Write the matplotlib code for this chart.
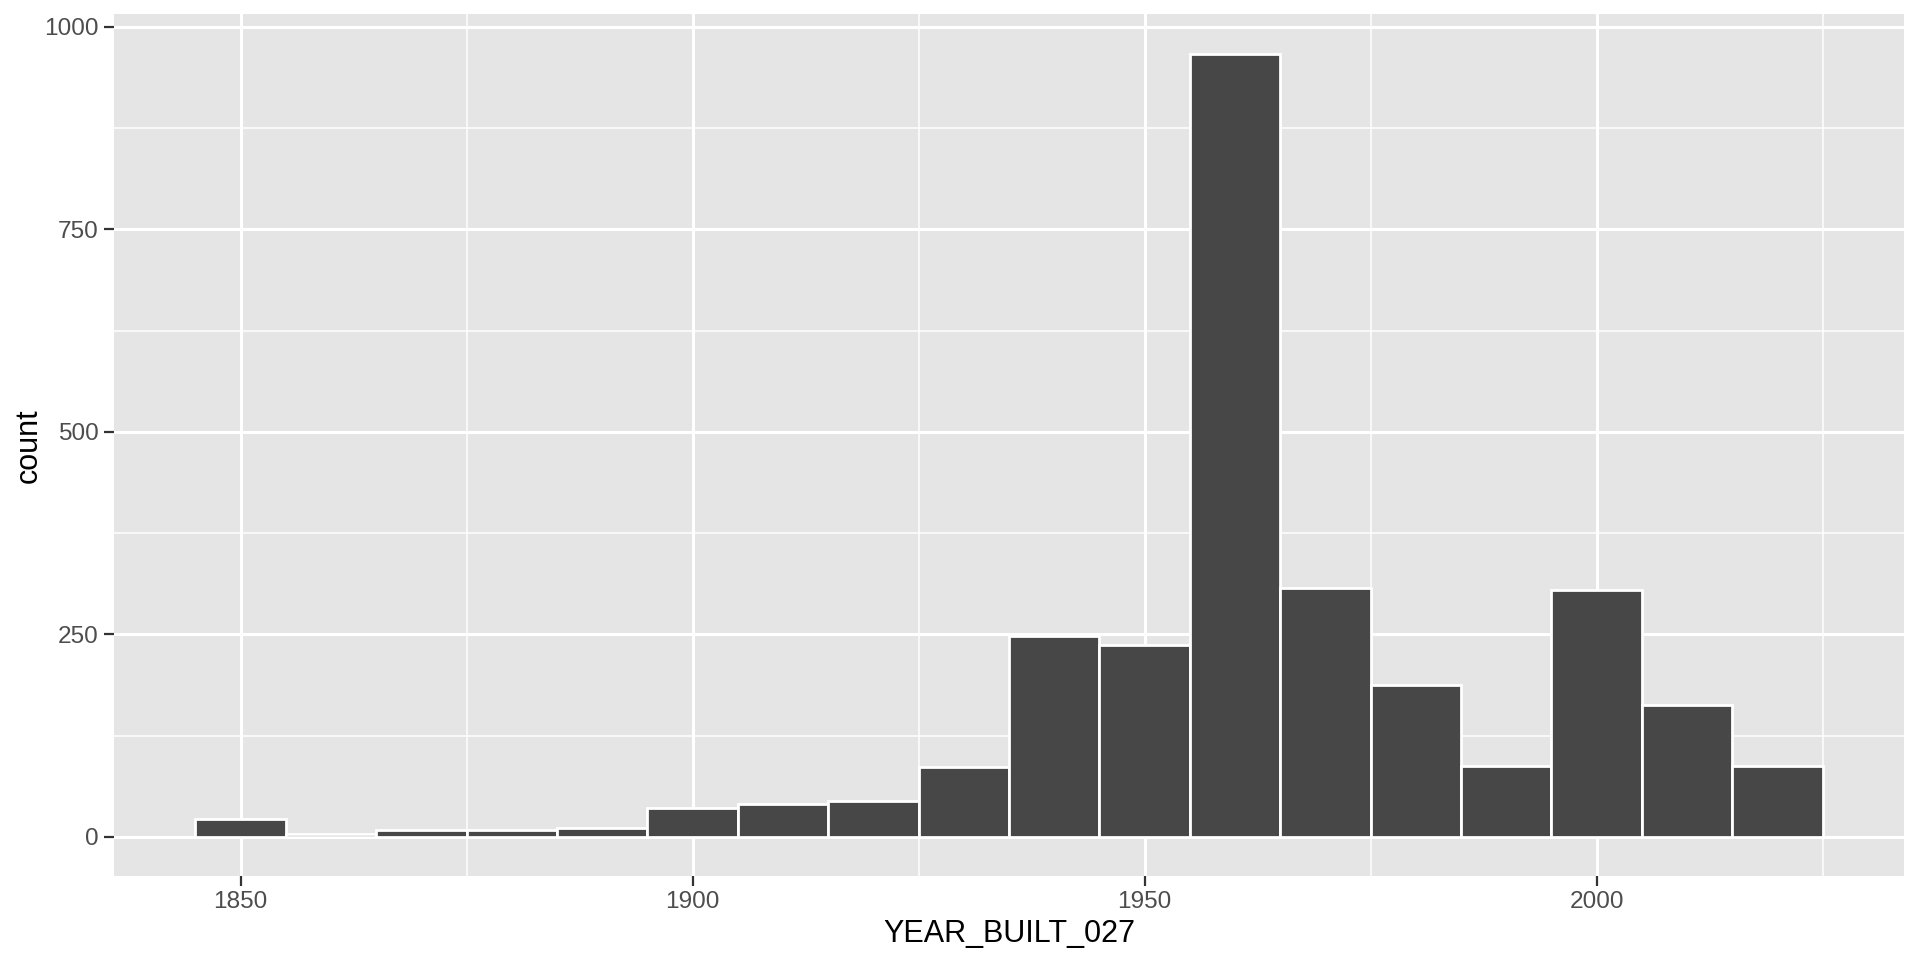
import numpy as np
import matplotlib.pyplot as plt
from matplotlib.ticker import FixedLocator

plt.rcParams['font.family'] = ['Liberation Sans', 'DejaVu Sans']

# histogram bins (width 10, centred on these years) and counts
bin_centers = [1850, 1860, 1870, 1880, 1890, 1900, 1910, 1920, 1930,
               1940, 1950, 1960, 1970, 1980, 1990, 2000, 2010, 2020]
counts = [22, 3, 9, 9, 11, 35, 40, 44, 86,
          248, 237, 967, 307, 187, 88, 305, 163, 88]
bin_width = 10

x_ticks = [1850, 1900, 1950, 2000]
x_minor = [1875, 1925, 1975, 2025]
y_ticks = [0, 250, 500, 750, 1000]
y_minor = [125, 375, 625, 875]

fig = plt.figure(figsize=(9.6, 4.8), dpi=200)
ax = fig.add_axes([0.0594, 0.0875, 0.9323, 0.8975])
ax.set_facecolor('#E5E5E5')

ax.bar(bin_centers, counts, width=bin_width, color='#474747',
       edgecolor='white', linewidth=1.0, zorder=3)

lo, hi = min(bin_centers) - bin_width / 2, max(bin_centers) + bin_width / 2
pad = (hi - lo) * 0.05
ax.set_xlim(lo - pad, hi + pad)
ymax = max(counts)
ax.set_ylim(-ymax * 0.05, ymax * 1.05)

ax.xaxis.set_major_locator(FixedLocator(x_ticks))
ax.xaxis.set_minor_locator(FixedLocator(x_minor))
ax.yaxis.set_major_locator(FixedLocator(y_ticks))
ax.yaxis.set_minor_locator(FixedLocator(y_minor))

ax.grid(which='major', color='white', linewidth=1.1, zorder=0)
ax.grid(which='minor', color='white', linewidth=0.55, zorder=0)
ax.set_axisbelow(True)

for s in ax.spines.values():
    s.set_visible(False)

ax.tick_params(which='major', length=3.5, width=0.8, color='#333333',
               labelcolor='#4D4D4D', labelsize=8.8, pad=2)
ax.tick_params(which='minor', length=0)

ax.set_xlabel('YEAR_BUILT_027', fontsize=11, color='black', labelpad=2)
ax.set_ylabel('count', fontsize=11, color='black')
ax.yaxis.set_label_coords(-0.039, 0.5)

fig.savefig('out.png', dpi=200)
